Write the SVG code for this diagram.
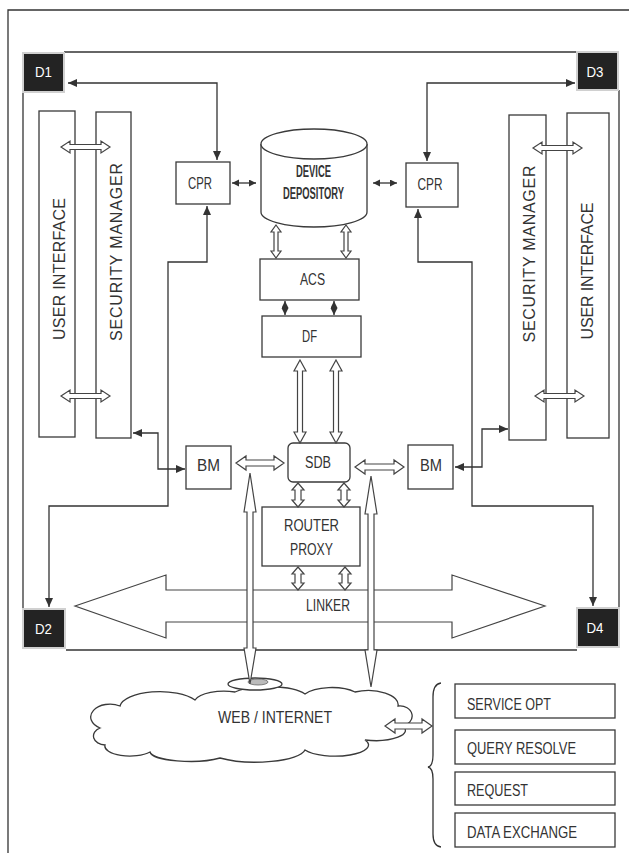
<svg xmlns="http://www.w3.org/2000/svg" width="629" height="853" viewBox="0 0 629 853">
<style>
.box{fill:#fff;stroke:#3a3a3a;stroke-width:1.3}
.t{font-family:"Liberation Sans",Arial,sans-serif;fill:#333;font-size:16px}
.r{font-size:16px}
.m{text-anchor:middle}
.d{fill:#232323;stroke:#d0d0d0;stroke-width:2}
.dt{font-family:"Liberation Sans",Arial,sans-serif;fill:#fff;font-size:15px;text-anchor:middle}
.ln{fill:none;stroke:#333;stroke-width:1.3}
.ho{fill:#fff;stroke:#444;stroke-width:1.2;stroke-linejoin:miter}
</style>
<defs>
<marker id="ah" markerUnits="userSpaceOnUse" markerWidth="10" markerHeight="9" refX="9" refY="4" orient="auto-start-reverse" viewBox="0 0 10 9">
<path d="M0,0 L9,4 L0,8 z" fill="#333"/>
</marker>
<marker id="ahs" markerUnits="userSpaceOnUse" markerWidth="8" markerHeight="8" refX="7" refY="3.5" orient="auto-start-reverse" viewBox="0 0 8 8">
<path d="M0,0 L7,3.5 L0,7 z" fill="#333"/>
</marker>
</defs>
<rect width="629" height="853" fill="#fff"/>

<g id="frame" class="ln">
<path d="M8 853 V10 H629"/>
<path d="M64 52 H577"/>
<path d="M23 92 V609"/>
<path d="M619 90 V608"/>
<path d="M66 650 H577"/>
</g>

<g id="D1"><rect class="d" x="23" y="53" width="41" height="39"/><text class="dt" x="43.5" y="77" textLength="17" lengthAdjust="spacingAndGlyphs">D1</text></g>
<g id="D3"><rect class="d" x="577" y="52" width="41" height="38"/><text class="dt" x="595" y="77" textLength="17" lengthAdjust="spacingAndGlyphs">D3</text></g>
<g id="D2"><rect class="d" x="23" y="609" width="42" height="39"/><text class="dt" x="43.5" y="634" textLength="17" lengthAdjust="spacingAndGlyphs">D2</text></g>
<g id="D4"><rect class="d" x="577" y="608" width="42" height="39"/><text class="dt" x="595" y="633" textLength="17" lengthAdjust="spacingAndGlyphs">D4</text></g>

<g id="ui-left"><rect class="box" x="39" y="111" width="36" height="326"/><text class="t m r" transform="translate(65,269) rotate(-90)" x="0" y="0" textLength="142" lengthAdjust="spacing">USER  INTERFACE</text></g>
<g id="sm-left"><rect class="box" x="96" y="112" width="35" height="326"/><text class="t m r" transform="translate(122,252) rotate(-90)" x="0" y="0" textLength="178" lengthAdjust="spacing">SECURITY  MANAGER</text></g>
<g id="sm-right"><rect class="box" x="509" y="115" width="37" height="325"/><text class="t m r" transform="translate(535,254) rotate(-90)" x="0" y="0" textLength="177" lengthAdjust="spacing">SECURITY  MANAGER</text></g>
<g id="ui-right"><rect class="box" x="567" y="113" width="42" height="325"/><text class="t m r" transform="translate(593,271) rotate(-90)" x="0" y="0" textLength="137" lengthAdjust="spacing">USER INTERFACE</text></g>

<g id="cpr-left"><rect class="box" x="176" y="162" width="54" height="42"/><text class="t m" x="200" y="189" textLength="24" lengthAdjust="spacingAndGlyphs">CPR</text></g>
<g id="cpr-right"><rect class="box" x="406" y="163" width="52" height="44"/><text class="t m" x="430" y="190" textLength="25" lengthAdjust="spacingAndGlyphs">CPR</text></g>

<g id="device-depository">
<path class="box" d="M261 144 V212 A53 15 0 0 0 367 212 V144"/>
<ellipse class="box" cx="314" cy="144" rx="53" ry="15"/>
<text class="t m" x="313.5" y="177" font-size="12.5" font-weight="bold" textLength="35" lengthAdjust="spacingAndGlyphs">DEVICE</text>
<text class="t m" x="313.5" y="199" font-size="12.5" font-weight="bold" textLength="61" lengthAdjust="spacingAndGlyphs">DEPOSITORY</text>
</g>

<g id="acs"><rect class="box" x="260" y="259" width="99" height="41"/><text class="t m" x="312.5" y="285" textLength="25" lengthAdjust="spacingAndGlyphs">ACS</text></g>
<g id="df"><rect class="box" x="262" y="316" width="99" height="41"/><text class="t m" x="309.5" y="342" textLength="15" lengthAdjust="spacingAndGlyphs">DF</text></g>
<g id="sdb"><rect class="box" x="288" y="443" width="62" height="39" rx="5"/><text class="t m" x="318" y="468" textLength="26" lengthAdjust="spacingAndGlyphs">SDB</text></g>
<g id="bm-left"><rect class="box" x="186" y="446" width="45" height="43"/><text class="t m" x="208.5" y="471" textLength="23" lengthAdjust="spacingAndGlyphs">BM</text></g>
<g id="bm-right"><rect class="box" x="408" y="445" width="45" height="44"/><text class="t m" x="431" y="471" textLength="22" lengthAdjust="spacingAndGlyphs">BM</text></g>
<g id="router-proxy"><rect class="box" x="262" y="507" width="98" height="59"/><text class="t m" x="311.5" y="531" textLength="55" lengthAdjust="spacingAndGlyphs">ROUTER</text><text class="t m" x="311.5" y="555" textLength="43" lengthAdjust="spacingAndGlyphs">PROXY</text></g>

<g id="linker">
<polygon class="ho" points="75,606 166,575 166,590 452,590 452,575 545,606 452,638 452,622 166,622 166,638"/>
<text class="t m" x="328" y="611" textLength="44" lengthAdjust="spacingAndGlyphs">LINKER</text>
</g>

<g id="web-internet">
<path class="box" d="M100 728 A18 12 0 0 1 120 706 A40 16 0 0 1 195 700 A30 12 0 0 1 235 692 A40 12 0 0 1 305 694 A30 12 0 0 1 355 692 A30 14 0 0 1 398 706 A12 10 0 0 1 402 726 A30 10 0 0 1 365 740 A30 10 0 0 1 305 750 A50 14 0 0 1 220 758 A40 10 0 0 1 150 752 A25 10 0 0 1 105 745 A12 9 0 0 1 100 728 Z"/>
<ellipse class="box" cx="255" cy="684" rx="27" ry="6"/>
<ellipse cx="258" cy="682" rx="10" ry="3" fill="#bbb" stroke="#666" stroke-width="0.8"/>
<text class="t m" x="275" y="723" font-size="17" textLength="114" lengthAdjust="spacingAndGlyphs">WEB / INTERNET</text>
</g>

<g id="service-opt"><rect class="box" x="455" y="684" width="160" height="34"/><text class="t" x="467" y="710" textLength="84" lengthAdjust="spacingAndGlyphs">SERVICE OPT</text></g>
<g id="query-resolve"><rect class="box" x="455" y="730" width="160" height="34"/><text class="t" x="467" y="754" textLength="109" lengthAdjust="spacingAndGlyphs">QUERY RESOLVE</text></g>
<g id="request"><rect class="box" x="455" y="772" width="160" height="33"/><text class="t" x="467" y="796" textLength="61" lengthAdjust="spacingAndGlyphs">REQUEST</text></g>
<g id="data-exchange"><rect class="box" x="455" y="813" width="160" height="34"/><text class="t" x="467" y="838" textLength="110" lengthAdjust="spacingAndGlyphs">DATA EXCHANGE</text></g>

<g id="connectors">
<path class="ln" d="M68 83 H217 V160" marker-start="url(#ah)" marker-end="url(#ah)"/>
<path class="ln" d="M427 161 V83 H575" marker-start="url(#ah)" marker-end="url(#ah)"/>
<path class="ln" d="M207 206 V262 H168 V506 H49 V607" marker-start="url(#ah)" marker-end="url(#ah)"/>
<path class="ln" d="M418 209 V262 H472 V506 H593 V606" marker-start="url(#ah)" marker-end="url(#ah)"/>
<path class="ln" d="M133 433 H158 V469 H185" marker-start="url(#ah)" marker-end="url(#ah)"/>
<path class="ln" d="M508 429 H482 V467 H455" marker-start="url(#ah)" marker-end="url(#ah)"/>
<path class="ln" d="M232 183 H256" marker-start="url(#ahs)" marker-end="url(#ahs)"/>
<path class="ln" d="M373 183 H397" marker-start="url(#ahs)" marker-end="url(#ahs)"/>
<path class="ln" d="M285 301 V315" marker-start="url(#ahs)" marker-end="url(#ahs)"/>
<path class="ln" d="M334 301 V315" marker-start="url(#ahs)" marker-end="url(#ahs)"/>
<polygon class="ho" points="61,147 70,141 70,144.5 101,144.5 101,141 110,147 101,153 101,149.5 70,149.5 70,153"/>
<polygon class="ho" points="61,396 70,390 70,393.5 101,393.5 101,390 110,396 101,402 101,398.5 70,398.5 70,402"/>
<polygon class="ho" points="533,148 542,142 542,145.5 573,145.5 573,142 582,148 573,154 573,150.5 542,150.5 542,154"/>
<polygon class="ho" points="535,396 544,390 544,393.5 575,393.5 575,390 584,396 575,402 575,398.5 544,398.5 544,402"/>
<polygon class="ho" points="276,225 281,232 278,232 278,251 281,251 276,258 271,251 274,251 274,232 271,232"/>
<polygon class="ho" points="346,225 351,232 348,232 348,251 351,251 346,258 341,251 344,251 344,232 341,232"/>
<polygon class="ho" points="300,360 306,371 302.5,371 302.5,432 306,432 300,443 294,432 297.5,432 297.5,371 294,371"/>
<polygon class="ho" points="336,360 342,371 338.5,371 338.5,432 342,432 336,443 330,432 333.5,432 333.5,371 330,371"/>
<polygon class="ho" points="298,483 304,490 301,490 301,500 304,500 298,507 292,500 295,500 295,490 292,490"/>
<polygon class="ho" points="344,483 350,490 347,490 347,500 350,500 344,507 338,500 341,500 341,490 338,490"/>
<polygon class="ho" points="298,567 304,574 301,574 301,583 304,583 298,590 292,583 295,583 295,574 292,574"/>
<polygon class="ho" points="345,567 351,574 348,574 348,583 351,583 345,590 339,583 342,583 342,574 339,574"/>
<polygon class="ho" points="236,463 246,456 246,460 274,460 274,456 284,463 274,470 274,466 246,466 246,470"/>
<polygon class="ho" points="355,467 365,460 365,464 394,464 394,460 404,467 394,474 394,470 365,470 365,474"/>
<polygon class="ho" points="385,726 395,719 395,723 422,723 422,719 432,726 422,733 422,729 395,729 395,733"/>
<polygon class="ho" points="250,473 256,512 253,512 253,648 256,648 250,684 244,648 247,648 247,512 244,512"/>
<polygon class="ho" points="371,476 377,514 374,514 374,650 377,650 371,687 365,650 368,650 368,514 365,514"/>
<path class="ln" d="M441 683 Q433 684 433 697 V755 Q433 766 428 767 Q433 768 433 779 V834 Q433 846 441 847"/>
</g>
</svg>
